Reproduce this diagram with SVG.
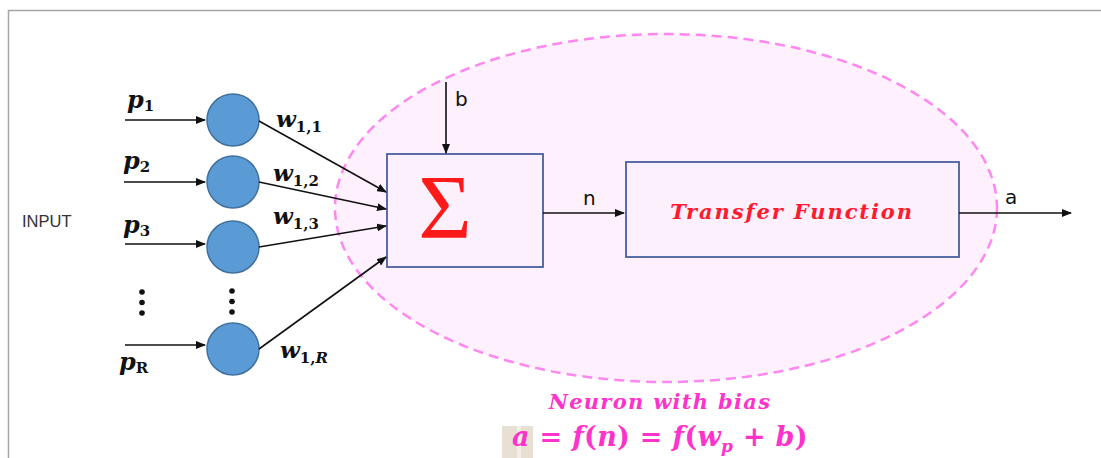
<svg xmlns="http://www.w3.org/2000/svg" width="1101" height="458" viewBox="0 0 1101 458">
<style>
.math{font-family:"DejaVu Serif","Liberation Serif",serif;font-weight:bold;font-style:italic;fill:#111}
.sub{font-style:normal;font-size:15px}
.cn{fill:#5b9bd5;stroke:#41719c;stroke-width:1.5}
.box{fill:#fdf0fd;stroke:#4a5fa0;stroke-width:1.8}
.ln{stroke:#111;stroke-width:1.6;fill:none}
.lbl{font-family:"DejaVu Sans","Liberation Sans",sans-serif;font-size:20px;fill:#111}
.dot{fill:#111}
.pk{font-family:"DejaVu Serif","Liberation Serif",serif;font-weight:bold;font-style:italic;fill:#ff33cc}
</style>
<defs>
<marker id="ah" markerWidth="10" markerHeight="8" refX="9" refY="4" orient="auto" markerUnits="userSpaceOnUse">
<path d="M0,0 L10,4 L0,8 z" fill="#111"/>
</marker>
</defs>
<rect x="0" y="0" width="1101" height="458" fill="#fff"/>
<path d="M8.5,458 V10.5 H1101" fill="none" stroke="#a6a6a6" stroke-width="1.5"/>
<g id="neuron">
<ellipse cx="666" cy="208" rx="331" ry="174" fill="#fef0fc" stroke="#ff88f0" stroke-width="2.5" stroke-dasharray="10,6"/>
</g>
<text x="22" y="227" font-family="Liberation Sans,Arial,sans-serif" font-size="16.5" fill="#333">INPUT</text>
<g id="inputs">
<text class="math" x="127" y="108" font-size="24">p<tspan class="sub" dy="3">1</tspan></text>
<text class="math" x="123" y="169" font-size="24">p<tspan class="sub" dy="3">2</tspan></text>
<text class="math" x="123" y="233" font-size="24">p<tspan class="sub" dy="3">3</tspan></text>
<text class="math" x="119" y="370" font-size="24">p<tspan class="sub" dy="3" font-style="italic">R</tspan></text>
<circle class="dot" cx="142" cy="292" r="2.8"/><circle class="dot" cx="142" cy="302.5" r="2.8"/><circle class="dot" cx="142" cy="313" r="2.8"/>
<circle class="dot" cx="232" cy="291" r="2.8"/><circle class="dot" cx="232" cy="301.5" r="2.8"/><circle class="dot" cx="232" cy="312" r="2.8"/>
</g>
<g id="node1"><circle class="cn" cx="233" cy="120" r="26"/></g>
<g id="node2"><circle class="cn" cx="233" cy="182" r="26"/></g>
<g id="node3"><circle class="cn" cx="233" cy="247" r="26"/></g>
<g id="nodeR"><circle class="cn" cx="233" cy="349" r="26"/></g>
<g id="sum">
<rect class="box" x="387" y="154" width="156" height="113"/>
<text x="445" y="238" text-anchor="middle" font-family="Liberation Serif,DejaVu Serif,serif" font-size="92" fill="#ff1a1a">Σ</text>
</g>
<g id="transfer">
<rect class="box" x="626" y="162" width="333" height="95"/>
<text x="792" y="219" text-anchor="middle" font-family="DejaVu Serif,Liberation Serif,serif" font-weight="bold" font-style="italic" font-size="21" letter-spacing="1.9" fill="#ff1a2e">Transfer Function</text>
</g>
<g id="connectors">
<line class="ln" x1="125" y1="120" x2="205" y2="120" marker-end="url(#ah)"/>
<line class="ln" x1="124" y1="182" x2="205" y2="182" marker-end="url(#ah)"/>
<line class="ln" x1="125" y1="244" x2="205" y2="244" marker-end="url(#ah)"/>
<line class="ln" x1="125" y1="345" x2="205" y2="345" marker-end="url(#ah)"/>
<line class="ln" x1="259" y1="121" x2="386" y2="192" marker-end="url(#ah)"/>
<line class="ln" x1="259" y1="182" x2="386" y2="209" marker-end="url(#ah)"/>
<line class="ln" x1="259" y1="247" x2="386" y2="226" marker-end="url(#ah)"/>
<line class="ln" x1="259" y1="349" x2="386" y2="257" marker-end="url(#ah)"/>
<line class="ln" x1="446" y1="82" x2="446" y2="153" marker-end="url(#ah)"/>
<line class="ln" x1="543" y1="213" x2="624" y2="213" marker-end="url(#ah)"/>
<line class="ln" x1="959" y1="213" x2="1071" y2="213" marker-end="url(#ah)"/>
</g>
<g id="labels">
<text class="math" x="276" y="127" font-size="23">w<tspan class="sub" dy="5">1,1</tspan></text>
<text class="math" x="273" y="181" font-size="23">w<tspan class="sub" dy="5">1,2</tspan></text>
<text class="math" x="273" y="224" font-size="23">w<tspan class="sub" dy="5">1,3</tspan></text>
<text class="math" x="280" y="358" font-size="23">w<tspan class="sub" dy="5">1,<tspan font-style="italic">R</tspan></tspan></text>
<text class="lbl" x="455" y="106">b</text>
<text class="lbl" x="583" y="205">n</text>
<text class="lbl" x="1005" y="204">a</text>
</g>
<g id="caption">
<rect x="502" y="426" width="31" height="32" fill="#e8e0d2"/>
<rect x="517" y="426" width="4" height="32" fill="#f4efe6"/>
<text x="660" y="409" text-anchor="middle" class="pk" font-size="21" letter-spacing="1.3">Neuron with bias</text>
<text x="512" y="446" class="pk" font-size="27" letter-spacing="0.3">a<tspan font-style="normal"> = </tspan>f<tspan font-style="normal">(</tspan>n<tspan font-style="normal">) = </tspan>f<tspan font-style="normal">(</tspan>w<tspan font-size="17" dy="6">p</tspan><tspan dy="-6" font-style="normal"> + </tspan>b<tspan font-style="normal">)</tspan></text>
</g>
</svg>
